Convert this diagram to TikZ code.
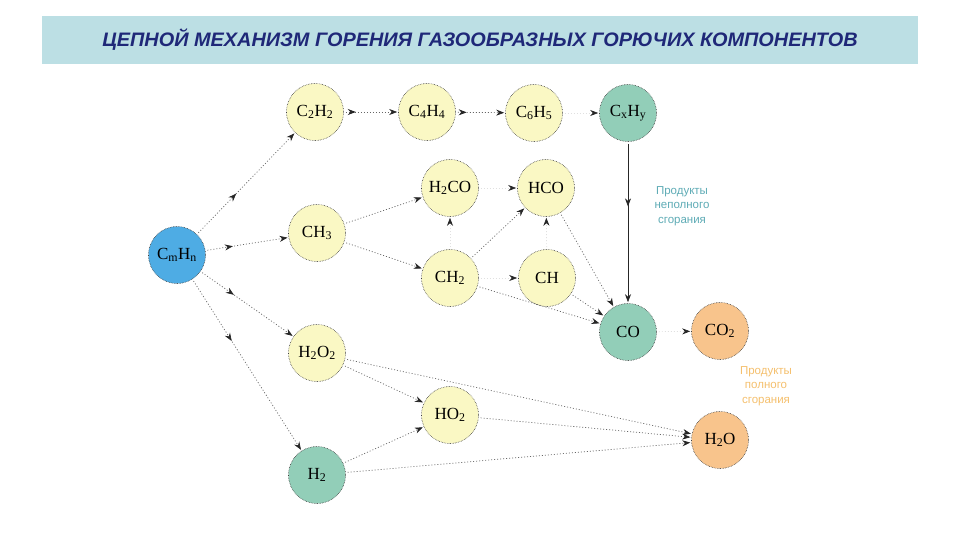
\documentclass[tikz,border=0pt]{standalone}
\usepackage{graphicx}
\usepackage{fontspec}
\setmainfont{Liberation Serif}
\setsansfont{Liberation Sans}
\usetikzlibrary{arrows.meta,decorations.markings}
\definecolor{ylw}{RGB}{250,248,196}
\definecolor{tealc}{RGB}{146,206,184}
\definecolor{bluec}{RGB}{78,172,228}
\definecolor{orng}{RGB}{248,196,140}
\definecolor{titlebg}{RGB}{188,223,228}
\definecolor{titlefg}{RGB}{31,40,120}
\definecolor{tealtxt}{RGB}{95,172,182}
\definecolor{orntxt}{RGB}{245,192,110}
\begin{document}
\begin{tikzpicture}[x=1pt,y=-1pt,
  mol/.style={circle,minimum size=57pt,inner sep=0pt,draw=black!75,densely dotted,line width=0.6pt,
    font=\fontsize{17}{17}\selectfont},
  yl/.style={mol,fill=ylw},
  tl/.style={mol,fill=tealc},
  bl/.style={mol,fill=bluec},
  og/.style={mol,fill=orng},
  lnk/.style={draw=black!60,line width=0.7pt,dash pattern=on 1pt off 2pt,
    -{Stealth[length=8pt,width=6pt,color=black!85]},shorten >=1pt,shorten <=2pt},
  faint/.style={draw=black!12},
  solidlnk/.style={draw=black!85,line width=0.7pt,
    -{Stealth[length=8pt,width=6pt,color=black!85]},shorten >=1pt,shorten <=2pt},
  midarr/.style={postaction={decorate},decoration={markings,
    mark=at position #1 with {\arrow{Stealth[length=8pt,width=6pt,color=black!85]}}}},
  lbl/.style={font=\sffamily\fontsize{11.5}{14.5}\selectfont,align=center}
]
\useasboundingbox (0,0) rectangle (960,540);
\fill[white] (0,0) rectangle (960,540);
% title
\node[fill=titlebg,minimum width=876pt,minimum height=48pt,inner sep=0pt,anchor=north west] (titlebar) at (42,16) {};
\node[text=titlefg,font=\sffamily\bfseries\itshape\fontsize{19.5}{19.5}\selectfont] (title) at (480,40)
  {\scalebox{1.02}[1]{ЦЕПНОЙ МЕХАНИЗМ ГОРЕНИЯ ГАЗООБРАЗНЫХ ГОРЮЧИХ КОМПОНЕНТОВ}};
% nodes
\node[yl] (c2h2) at (315,112) {C\textsubscript{2}H\textsubscript{2}};
\node[yl] (c4h4) at (427,112) {C\textsubscript{4}H\textsubscript{4}};
\node[yl] (c6h5) at (534,113) {C\textsubscript{6}H\textsubscript{5}};
\node[tl] (cxhy) at (628,113) {C\textsubscript{x}H\textsubscript{y}};
\node[yl] (h2co) at (450,188) {H\textsubscript{2}CO};
\node[yl] (hco) at (546,188) {HCO};
\node[yl] (ch3) at (317,233) {CH\textsubscript{3}};
\node[bl] (cmhn) at (177,255) {C\textsubscript{m}H\textsubscript{n}};
\node[yl] (ch2) at (450,278) {CH\textsubscript{2}};
\node[yl] (ch) at (547,278) {CH};
\node[tl] (co) at (628,332) {CO};
\node[og] (co2) at (720,331) {CO\textsubscript{2}};
\node[yl] (h2o2) at (317,353) {H\textsubscript{2}O\textsubscript{2}};
\node[yl] (ho2) at (450,415) {HO\textsubscript{2}};
\node[og] (h2o) at (720,440) {H\textsubscript{2}O};
\node[tl] (h2) at (317,475) {H\textsubscript{2}};
% labels
\node[lbl,text=tealtxt] (lab1) at (682,206) {Продукты\\неполного\\сгорания};
\node[lbl,text=orntxt] (lab2) at (766,386) {Продукты\\полного\\сгорания};
% edges
\draw[lnk,midarr=0.4] (cmhn) -- (c2h2);
\draw[lnk,midarr=0.22] (c2h2) -- (c4h4);
\draw[lnk,midarr=0.22] (c4h4) -- (c6h5);
\draw[lnk,faint] (c6h5) -- (cxhy);
\draw[lnk,midarr=0.33] (cmhn) -- (ch3);
\draw[lnk] (ch3) -- (h2co);
\draw[lnk] (ch3) -- (ch2);
\draw[lnk,faint] (ch2) -- (h2co);
\draw[lnk,faint] (h2co) -- (hco);
\draw[lnk] (ch2) -- (hco);
\draw[lnk,faint] (ch) -- (hco);
\draw[lnk,faint] (ch2) -- (ch);
\draw[lnk] (hco) -- (co);
\draw[lnk] (ch) -- (co);
\draw[lnk] (ch2) -- (co);
\draw[solidlnk,midarr=0.4] (cxhy) -- (co);
\draw[lnk,faint] (co) -- (co2);
\draw[lnk,midarr=0.36] (cmhn) -- (h2o2);
\draw[lnk,midarr=0.36] (cmhn) -- (h2);
\draw[lnk] (h2o2) -- (h2o);
\draw[lnk] (h2o2) -- (ho2);
\draw[lnk] (h2) -- (ho2);
\draw[lnk] (ho2) -- (h2o);
\draw[lnk] (h2) -- (h2o);
\end{tikzpicture}
\end{document}
